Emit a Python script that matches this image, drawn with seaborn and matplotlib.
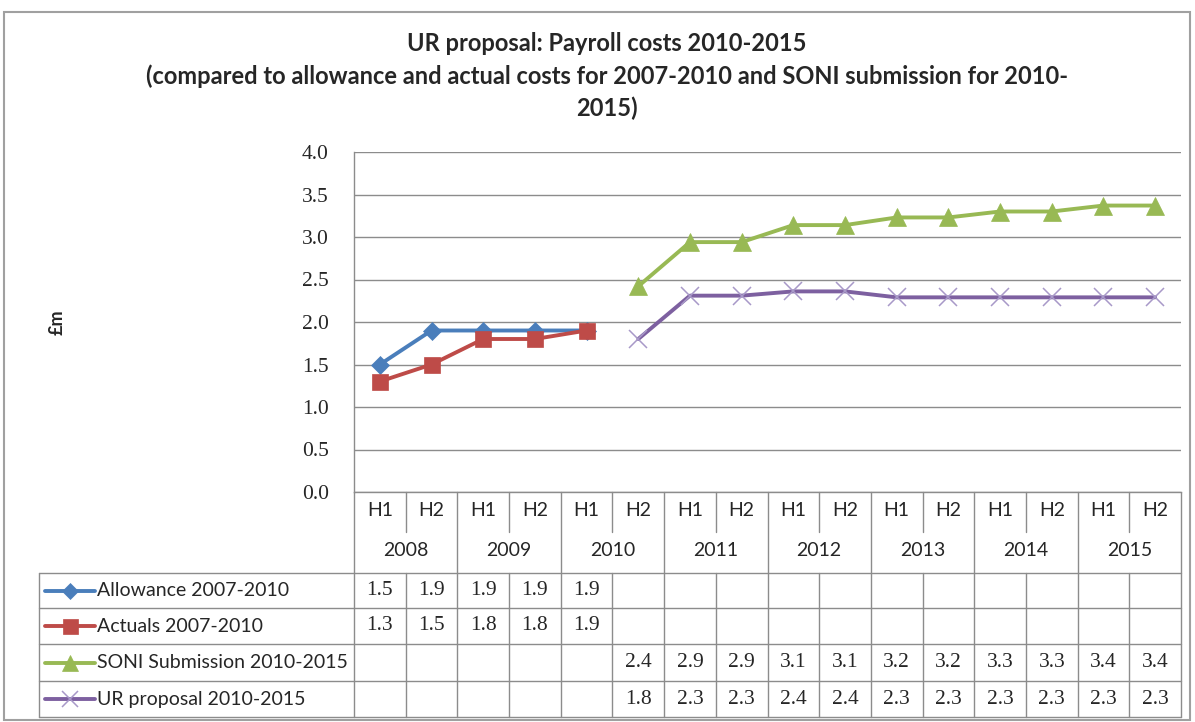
import numpy as np
import pandas as pd
import matplotlib
matplotlib.use("Agg")
import matplotlib.pyplot as plt
import seaborn as sns
from matplotlib import transforms
from matplotlib.lines import Line2D
from matplotlib.patches import Rectangle

nan = np.nan
# ---------------- data ----------------
halves = ["H1", "H2", "H1", "H2", "H1", "H2", "H1", "H2",
          "H1", "H2", "H1", "H2", "H1", "H2", "H1", "H2"]
years = [2008, 2008, 2009, 2009, 2010, 2010, 2011, 2011,
         2012, 2012, 2013, 2013, 2014, 2014, 2015, 2015]
allowance = [1.5, 1.9, 1.9, 1.9, 1.9, nan, nan, nan, nan, nan, nan, nan, nan, nan, nan, nan]
actuals = [1.3, 1.5, 1.8, 1.8, 1.9, nan, nan, nan, nan, nan, nan, nan, nan, nan, nan, nan]
soni = [nan, nan, nan, nan, nan, 2.42, 2.94, 2.94, 3.14, 3.14, 3.23, 3.23, 3.30, 3.30, 3.37, 3.37]
ur = [nan, nan, nan, nan, nan, 1.80, 2.31, 2.31, 2.36, 2.36, 2.29, 2.29, 2.29, 2.29, 2.29, 2.29]
series_names = ["Allowance 2007-2010", "Actuals 2007-2010",
                "SONI Submission 2010-2015", "UR proposal 2010-2015"]
y_ticks = [0.0, 0.5, 1.0, 1.5, 2.0, 2.5, 3.0, 3.5, 4.0]
title = ("UR proposal: Payroll costs 2010-2015\n"
         "(compared to allowance and actual costs for 2007-2010 and SONI submission for 2010-\n"
         "2015)")

series = [allowance, actuals, soni, ur]
colors = ["#4A7EBB", "#BE4B48", "#98B954", "#7D60A0"]
edge_colors = ["#4A7EBB", "#BE4B48", "#98B954", "#A899C8"]
markers = ["D", "s", "^", "x"]
msizes = [9, 12, 12.5, 13]
medgew = [0.5, 0.5, 0.5, 1.1]

sns.set_theme(style="white")
plt.rcParams["font.family"] = ["Lato", "DejaVu Sans"]
SERIF = ["Liberation Serif", "DejaVu Serif"]

W, H = 1195, 722
fig = plt.figure(figsize=(W / 100, H / 100), dpi=100)

def fx(px):
    return px / W

def fy(py):
    return 1 - py / H

L, R, T, B = 354, 1181, 152, 492
ax = fig.add_axes([fx(L), fy(B), fx(R - L), (B - T) / H])

idx = np.arange(len(halves))
df = pd.DataFrame({"idx": idx, "allowance": allowance, "actuals": actuals,
                   "soni": soni, "ur": ur})
for col, c, ec, m, ms, mew in zip(["allowance", "actuals", "soni", "ur"], colors,
                                  edge_colors, markers, msizes, medgew):
    sns.lineplot(data=df, x="idx", y=col, ax=ax, color=c, linewidth=2.8,
                 marker=m, markersize=ms, markeredgecolor=ec, markeredgewidth=mew)

ax.set_xlim(-0.5, len(halves) - 0.5)
ax.set_ylim(0, 4.0)
ax.set_yticks(y_ticks)
ax.set_yticklabels([f"{v:.1f}" for v in y_ticks], fontsize=15.5, family=SERIF)
ax.set_xticks(idx)
ax.set_xticklabels([])
ax.tick_params(axis="y", length=0, pad=18)
ax.tick_params(axis="x", length=0, pad=0)
ax.set_xlabel("")
ax.set_ylabel("")
ax.grid(axis="y", color="#8C8C8C", linewidth=1.0)
ax.set_axisbelow(True)
for s in ["top", "right"]:
    ax.spines[s].set_visible(False)
for s in ["left", "bottom"]:
    ax.spines[s].set_color("#8C8C8C")
    ax.spines[s].set_linewidth(1.0)

fig.text(fx(57), fy(322), "£m", rotation=90, fontsize=13, fontweight="bold",
         ha="center", va="center")

fig.text(fx(607), fy(76), title, ha="center", va="center", fontsize=17,
         fontweight="bold", linespacing=1.45)

# ---------------- data table ----------------
tr = transforms.blended_transform_factory(ax.transData, fig.transFigure)
gc = "#8C8C8C"
lw = 1.0

def hline(x0, x1, y, transform=fig.transFigure):
    fig.add_artist(Line2D([x0, x1], [fy(y), fy(y)], color=gc, lw=lw, transform=transform))

def vline(x, y0, y1, transform=fig.transFigure):
    fig.add_artist(Line2D([x, x], [fy(y0), fy(y1)], color=gc, lw=lw, transform=transform))

row_y = [573, 608, 644, 681, 717]
for y in row_y:
    hline(fx(39), fx(R), y)
vline(fx(39), 573, 717)
vline(fx(L), B, 717)
vline(fx(R), B, 717)

n = len(halves)
for i in range(1, n):
    xb = i - 0.5
    if years[i] != years[i - 1]:
        vline(xb, B, 573, transform=tr)
    else:
        vline(xb, B, 532, transform=tr)
    vline(xb, 573, 717, transform=tr)

fs = 14
for i, h in enumerate(halves):
    fig.text(i, fy(511), h, transform=tr, ha="center", va="center", fontsize=fs)
yr = pd.DataFrame({"idx": idx, "year": years}).groupby("year")["idx"].mean()
for yv, xc in yr.items():
    fig.text(xc, fy(551), str(yv), transform=tr, ha="center", va="center", fontsize=fs)

for r, (name, vals, c, ec, m, ms, mew) in enumerate(zip(series_names, series, colors,
                                                       edge_colors, markers, msizes, medgew)):
    yc = (row_y[r] + row_y[r + 1]) / 2
    fig.add_artist(Line2D([fx(45), fx(95)], [fy(yc), fy(yc)], color=c, lw=2.8,
                          transform=fig.transFigure))
    fig.add_artist(Line2D([fx(70)], [fy(yc)], color=c, marker=m, markersize=ms * 0.9,
                          markeredgecolor=ec, markeredgewidth=mew,
                          linestyle="none", transform=fig.transFigure))
    fig.text(fx(97), fy(yc), name, ha="left", va="center", fontsize=fs)
    for i, v in enumerate(vals):
        if not np.isnan(v):
            fig.text(i, fy(yc), f"{v:.1f}", transform=tr, ha="center", va="center",
                     fontsize=15.5, family=SERIF)

# outer chart border
fig.add_artist(Rectangle((fx(4), fy(720)), fx(1190 - 4), (720 - 12) / H, fill=False,
                         edgecolor="#A0A0A0", lw=1.5, transform=fig.transFigure))

fig.savefig("out.png", dpi=100, facecolor="white")
